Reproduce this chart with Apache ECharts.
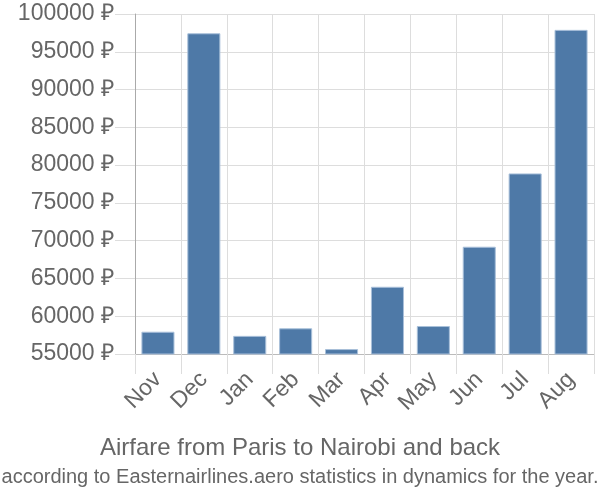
<!DOCTYPE html>
<html>
<head>
<meta charset="utf-8">
<script src="https://cdn.jsdelivr.net/npm/echarts@6/dist/echarts.min.js"></script>
<style>html,body{margin:0;padding:0;background:#fff}#c{width:600px;height:500px}</style>
</head>
<body>
<div id="c"></div>
<script>
const categories = ["Nov","Dec","Jan","Feb","Mar","Apr","May","Jun","Jul","Aug"];
const prices = [57950, 97450, 57400, 58400, 55650, 63900, 58700, 69200, 78900, 97900];
const yMin = 55000, yMax = 100000, yStep = 5000;
const titleText = "Airfare from Paris to Nairobi and back";
const subtitleText = "according to Easternairlines.aero statistics in dynamics for the year.";

const chart = echarts.init(document.getElementById('c'));
const font = '"Liberation Sans", Arial, sans-serif';
chart.setOption({
  animation: false,
  textStyle: { fontFamily: font },
  title: [
    { text: titleText, left: 'center', top: 431, textStyle: { fontSize: 24, fontWeight: 'normal', color: '#666', fontFamily: font } },
    { text: subtitleText, left: 'center', top: 462, textStyle: { fontSize: 20, fontWeight: 'normal', color: '#666', fontFamily: font } }
  ],
  grid: { left: 135, right: 6, top: 14, bottom: 146, containLabel: false },
  xAxis: {
    type: 'category',
    data: categories,
    axisLine: { show: true, lineStyle: { color: '#bbb', width: 1 } },
    axisTick: { show: true, length: 20, lineStyle: { color: '#ddd' } },
    splitLine: { show: true, lineStyle: { color: '#ddd', width: 1 } },
    axisLabel: { rotate: 45, fontSize: 23, color: '#666', margin: 22, fontFamily: font }
  },
  yAxis: {
    type: 'value',
    min: yMin, max: yMax, interval: yStep,
    axisLine: { show: true, lineStyle: { color: '#aaa', width: 1 } },
    axisTick: { show: true, length: 20, lineStyle: { color: '#ddd' } },
    splitLine: { show: true, lineStyle: { color: '#ddd', width: 1 } },
    axisLabel: { formatter: v => v + ' ₽', fontSize: 23, color: '#666', margin: 21, fontFamily: font }
  },
  series: [{
    type: 'bar',
    data: prices,
    barCategoryGap: '28%',
    itemStyle: { color: '#4e79a7', borderColor: '#a9c0da', borderWidth: 1 }
  }]
});
</script>
</body>
</html>
